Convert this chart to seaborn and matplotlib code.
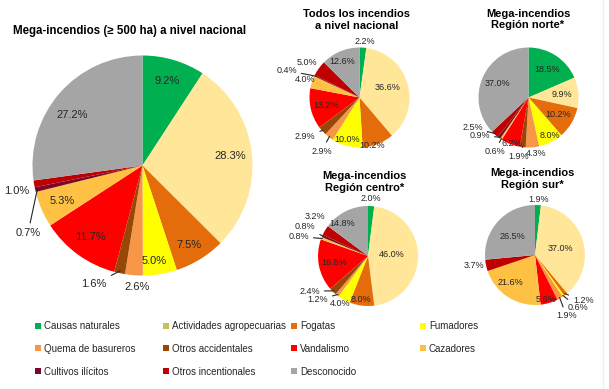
import numpy as np
import matplotlib
matplotlib.use("Agg")
import matplotlib.pyplot as plt
from matplotlib.lines import Line2D
import seaborn as sns

sns.set_theme(style="white")
plt.rcParams["font.family"] = ["Liberation Sans", "DejaVu Sans"]

# Data
categories = ["Causas naturales", "Actividades agropecuarias", "Fogatas", "Fumadores",
              "Quema de basureros", "Otros accidentales", "Vandalismo", "Cazadores",
              "Cultivos ilícitos", "Otros incentionales", "Desconocido"]
colors = ["#00B050", "#FFE699", "#E46C0A", "#FFFF00", "#F79646", "#974806",
          "#FF0000", "#FFC143", "#7A0A2A", "#C00000", "#A5A5A5"]
legend_colors = list(colors)
legend_colors[1] = "#C3C35A"

mega_nacional = [9.2, 28.3, 7.5, 5.0, 2.6, 1.6, 11.7, 5.3, 0.7, 1.0, 27.2]
todos_nacional = [2.2, 36.6, 10.2, 10.0, 2.9, 2.9, 13.2, 4.0, 0.4, 5.0, 12.6]
mega_norte = [18.5, 9.9, 10.2, 8.0, 4.3, 1.9, 6.2, 0.6, 0.9, 2.5, 37.0]
mega_centro = [2.0, 46.0, 8.0, 4.0, 1.2, 2.4, 16.8, 0.8, 0.8, 3.2, 14.8]
mega_sur = [1.9, 37.0, 1.2, 0.6, 1.9, 0.0, 5.6, 21.6, 0.0, 3.7, 26.5]

W, H = 609, 389
fig = plt.figure(figsize=(W / 100, H / 100), dpi=100)
TXT = "#262626"


def px_rect(cx, cy, r):
    return [(cx - r) / W, (H - cy - r) / H, 2 * r / W, 2 * r / H]


def draw_pie(rect, values, fs, pctdist, place):
    # place: slice index -> (x, y, leader line) in units of the radius
    ax = fig.add_axes(rect)
    wedges, _ = ax.pie(values, colors=colors, startangle=90, counterclock=False,
                       wedgeprops=dict(linewidth=0))
    ax.set_xlim(-1, 1)
    ax.set_ylim(-1, 1)
    ax.set_aspect("equal")
    ax.axis("off")
    for i, (w, v) in enumerate(zip(wedges, values)):
        if v == 0:
            continue
        ang = np.deg2rad((w.theta1 + w.theta2) / 2)
        label = f"{v:.1f}%"
        if i in place:
            tx, ty, line = place[i]
            if line:
                ax.annotate(label, xy=(np.cos(ang) * 0.98, np.sin(ang) * 0.98),
                            xytext=(tx, ty), ha="center", va="center", fontsize=fs,
                            color=TXT, annotation_clip=False,
                            arrowprops=dict(arrowstyle="-", lw=0.8, color=TXT,
                                            shrinkA=1, shrinkB=0))
            else:
                ax.text(tx, ty, label, ha="center", va="center", fontsize=fs,
                        color=TXT, clip_on=False)
        else:
            ax.text(np.cos(ang) * pctdist, np.sin(ang) * pctdist, label,
                    ha="center", va="center", fontsize=fs, color=TXT)
    return ax


# Main pie
draw_pie(px_rect(142.5, 165.5, 110), mega_nacional, 8, 0.8,
         {2: (0.42, -0.72, False), 3: (0.11, -0.87, False),
          4: (-0.05, -1.10, False), 5: (-0.44, -1.08, True),
          8: (-1.04, -0.61, True), 9: (-1.14, -0.23, False),
          10: (-0.64, 0.46, False)})
fig.text(130 / W, 1 - 31 / H, "Mega-incendios (≥ 500 ha) a nivel nacional",
         ha="center", va="center", fontsize=8.3, fontweight="bold", color="black")

# Todos los incendios
draw_pie(px_rect(359.5, 97.5, 50), todos_nacional, 6.5, 0.68,
         {0: (0.10, 1.12, False), 1: (0.57, 0.21, False), 2: (0.26, -0.96, False),
          3: (-0.24, -0.84, False), 4: (-0.76, -1.07, True), 5: (-1.09, -0.78, True),
          7: (-1.09, 0.36, False), 8: (-1.46, 0.54, True), 9: (-1.06, 0.70, False),
          10: (-0.35, 0.71, False)})
fig.text(357 / W, 1 - 20 / H, "Todos los incendios\na nivel nacional",
         ha="center", va="center", fontsize=8, fontweight="bold", color="black")

# Region norte
draw_pie(px_rect(528.5, 97.5, 50), mega_norte, 6.5, 0.68,
         {3: (0.43, -0.75, False),
          4: (0.16, -1.12, False), 5: (-0.20, -1.18, True), 6: (-0.34, -0.92, False),
          7: (-0.67, -1.08, True), 8: (-0.98, -0.77, True), 9: (-1.12, -0.60, True)})
fig.text(528 / W, 1 - 19.5 / H, "Mega-incendios\nRegión norte*",
         ha="center", va="center", fontsize=8, fontweight="bold", color="black")

# Region centro
draw_pie(px_rect(368, 256, 50), mega_centro, 6.5, 0.68,
         {0: (0.06, 1.15, False), 1: (0.47, 0.03, False), 2: (-0.14, -0.86, False),
          3: (-0.55, -0.95, False), 4: (-1.01, -0.88, True),
          5: (-1.17, -0.70, True), 7: (-1.39, 0.39, True), 8: (-1.26, 0.59, True),
          9: (-1.06, 0.79, False), 10: (-0.51, 0.64, False)})
fig.text(364.5 / W, 1 - 182 / H, "Mega-incendios\nRegión centro*",
         ha="center", va="center", fontsize=8, fontweight="bold", color="black")

# Region sur
draw_pie(px_rect(535, 255, 50), mega_sur, 6.5, 0.68,
         {0: (0.07, 1.11, False), 1: (0.51, 0.13, False), 2: (0.97, -0.91, True),
          3: (0.87, -1.06, True), 4: (0.63, -1.22, True), 6: (0.23, -0.89, False),
          7: (-0.50, -0.55, False), 9: (-1.23, -0.22, False),
          10: (-0.45, 0.37, False)})
fig.text(532 / W, 1 - 179 / H, "Mega-incendios\nRegión sur*",
         ha="center", va="center", fontsize=8, fontweight="bold", color="black")

# Legend: four equal-width columns
col_items = [[0, 4, 8], [1, 5, 9], [2, 6, 10], [3, 7]]
col_x = [36, 164, 292, 421]
for items, x in zip(col_items, col_x):
    handles = [Line2D([], [], marker="s", linestyle="none", markersize=4.2,
                      markerfacecolor=legend_colors[i], markeredgewidth=0)
               for i in items]
    fig.legend(handles, [categories[i] for i in items], loc="upper left",
               bbox_to_anchor=(x / W, 1 - 321 / H), frameon=False, fontsize=7,
               handlelength=0.5, handletextpad=0.3, labelspacing=1.32,
               borderpad=0, borderaxespad=0)

# faint frame line on the right edge
fig.add_artist(Line2D([603 / W, 603 / W], [0, 1], color="#F0F0F0", lw=1))

fig.savefig("out.png", dpi=100)
